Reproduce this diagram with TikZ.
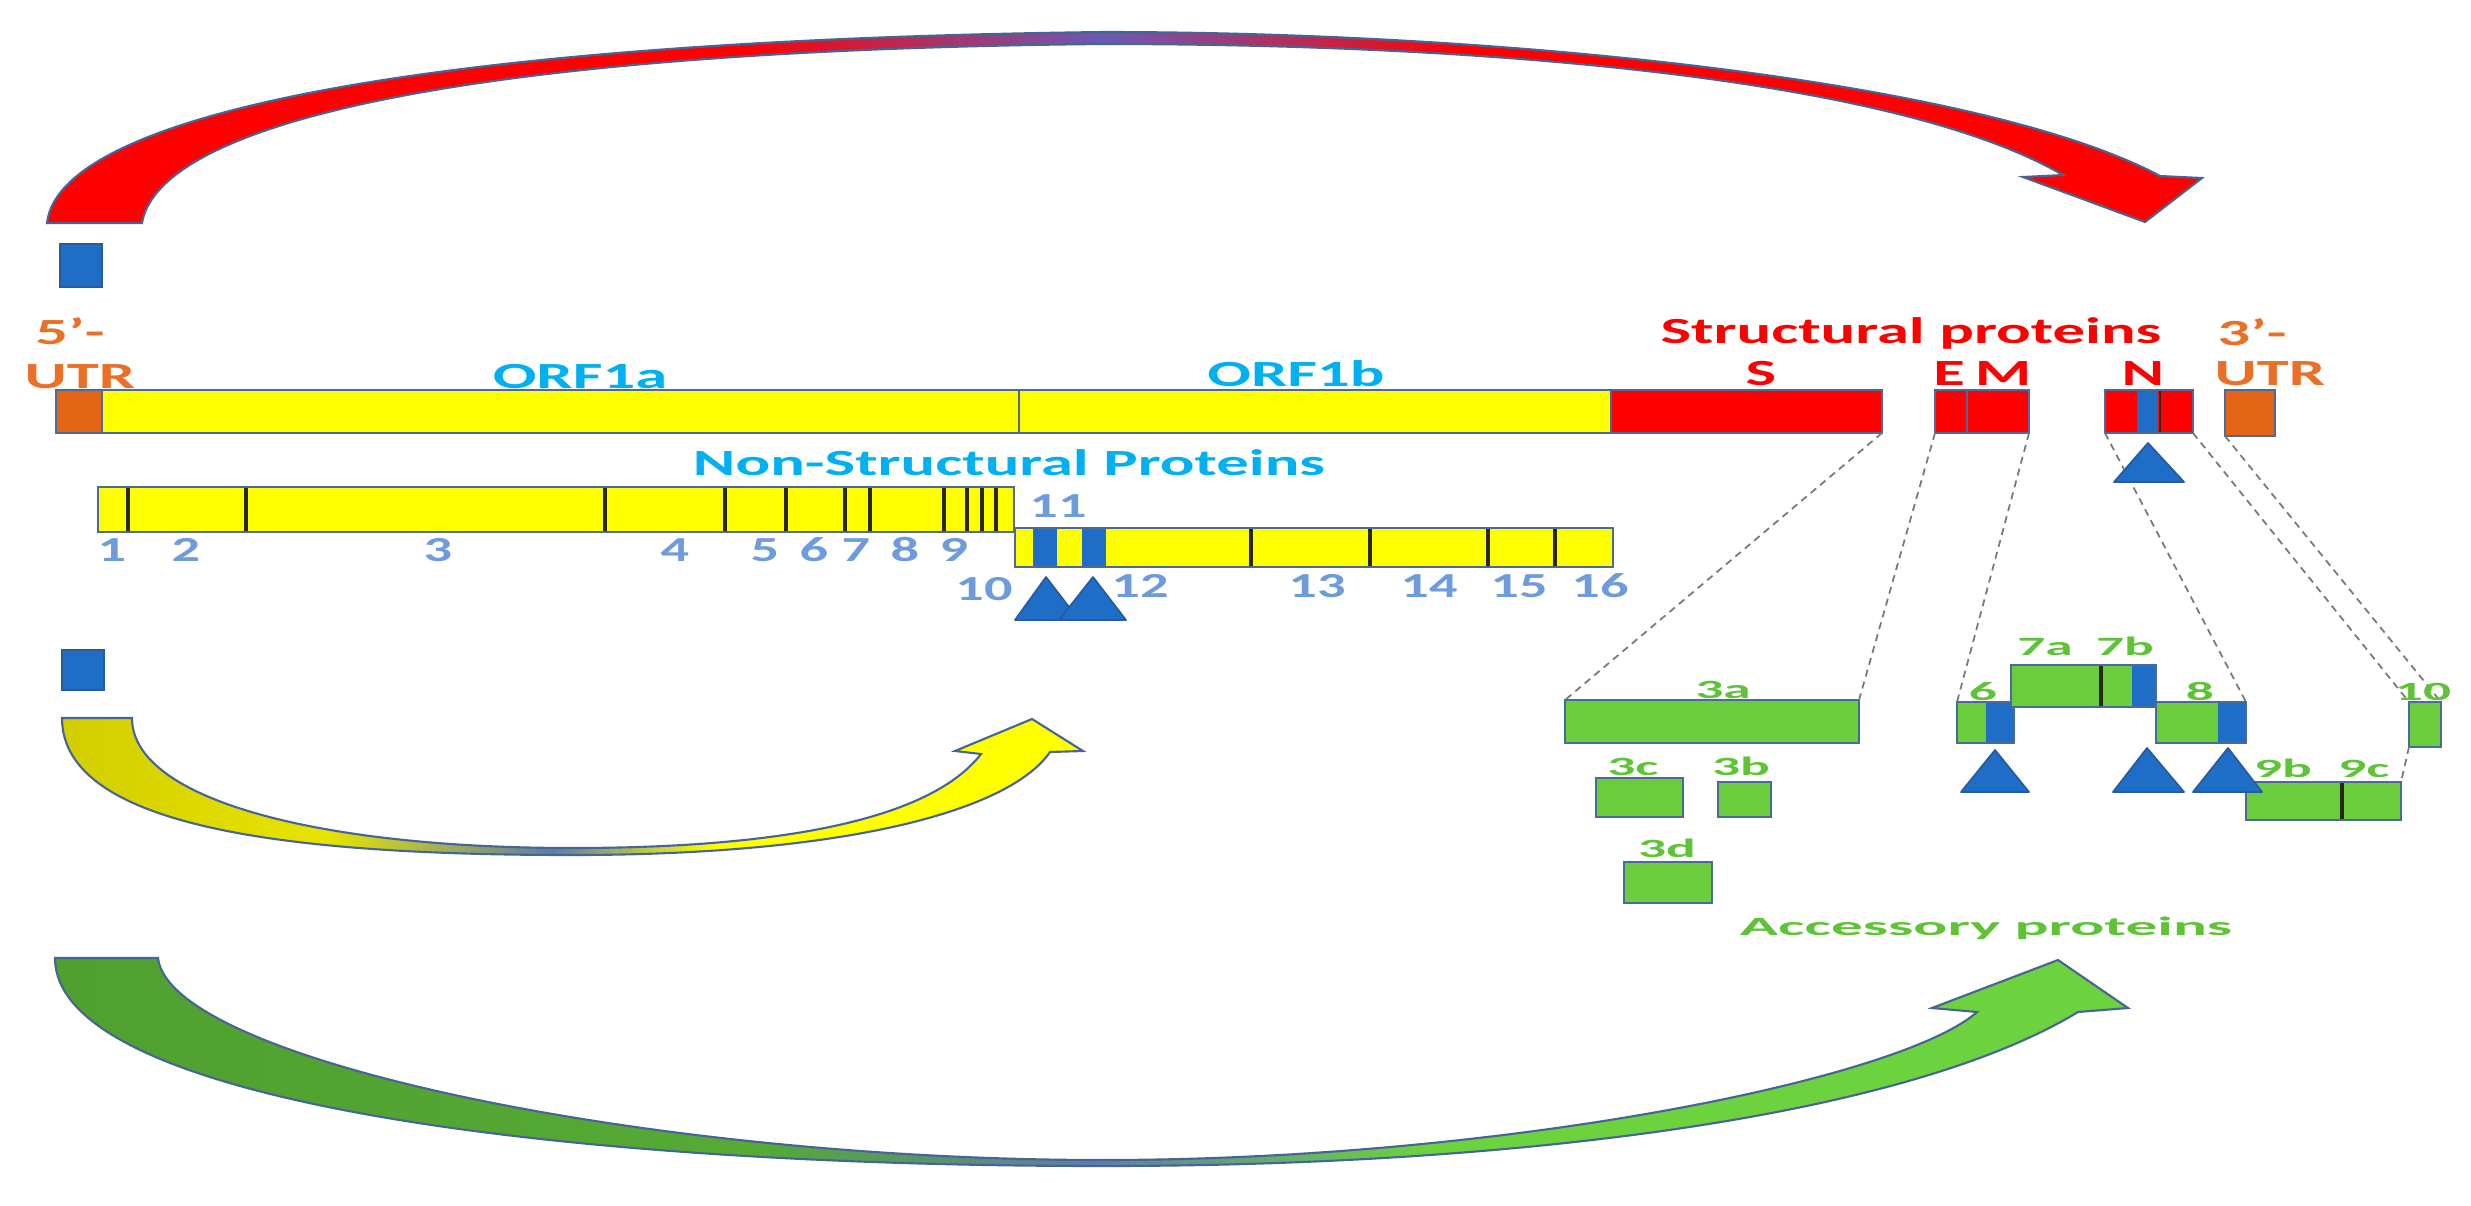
\documentclass[tikz,border=0pt]{standalone}
\usepackage{fontspec}
\setmainfont{Carlito}
\usepackage{graphicx}
\usetikzlibrary{fit}

\definecolor{yel}{RGB}{255,255,0}
\definecolor{redc}{RGB}{255,0,0}
\definecolor{orng}{RGB}{226,100,20}
\definecolor{orngtxt}{RGB}{234,112,40}
\definecolor{blu}{RGB}{30,110,200}
\definecolor{bluedge}{RGB}{40,90,160}
\definecolor{boxline}{RGB}{75,105,155}
\definecolor{grn}{RGB}{105,205,60}
\definecolor{grntxt}{RGB}{95,195,55}
\definecolor{cyantxt}{RGB}{0,176,240}
\definecolor{numtxt}{RGB}{110,155,220}
\definecolor{tickc}{RGB}{40,40,20}
\definecolor{arcedge}{RGB}{70,100,150}
\definecolor{arcmid}{RGB}{105,90,180}
\definecolor{arcblueg}{RGB}{95,125,165}
\definecolor{yolive}{RGB}{210,205,0}
\definecolor{ymid}{RGB}{232,228,0}
\definecolor{gdark}{RGB}{80,160,48}
\definecolor{gdarkb}{RGB}{85,170,52}
\definecolor{glight}{RGB}{108,210,62}
\definecolor{dashc}{RGB}{120,120,120}

\pgfdeclarehorizontalshading{redarc}{100bp}{color(0bp)=(redc); color(41bp)=(redc); color(49.5bp)=(arcmid); color(58bp)=(redc); color(100bp)=(redc)}
\pgfdeclarehorizontalshading{yelarc}{100bp}{color(0bp)=(yolive); color(25bp)=(yolive); color(38bp)=(ymid); color(49bp)=(arcblueg); color(57bp)=(yel); color(100bp)=(yel)}
\pgfdeclarehorizontalshading{grnarc}{100bp}{color(0bp)=(gdark); color(25bp)=(gdark); color(42bp)=(gdarkb); color(50bp)=(arcblueg); color(58bp)=(glight); color(100bp)=(glight)}

\newcommand\stx[2]{\scalebox{#1}[1]{#2}}

\begin{document}
\begin{tikzpicture}[x=0.01cm,y=-0.01cm,
  gbox/.style={draw=boxline, line width=0.6pt, inner sep=0pt, outer sep=0pt, rectangle},
  abox/.style={gbox, fill=grn},
  bsq/.style={rectangle, fill=blu, draw=bluedge, line width=0.4pt, inner sep=0pt, outer sep=0pt},
  outl/.style={draw=boxline, line width=0.6pt},
  tickl/.style={draw=tickc, line width=0.9pt},
  tri/.style={fill=blu, draw=bluedge, line width=0.5pt, line join=round},
  dashl/.style={draw=dashc, line width=0.5pt, dash pattern=on 2pt off 1.5pt},
  arc/.style={draw=arcedge, line width=0.6pt, line join=miter},
  lblA/.style={anchor=base, inner sep=0pt, font=\fontsize{10.5}{12}\selectfont\bfseries},
  num/.style={anchor=base, inner sep=0pt, text=numtxt, font=\fontsize{10}{12}\selectfont\bfseries},
  glbl/.style={anchor=base, inner sep=0pt, text=grntxt, font=\fontsize{7.5}{9}\selectfont\bfseries}
]
\useasboundingbox (0,0) rectangle (2471,1205);

% ---- big curved arrows ----
\shadedraw[shading=redarc, arc]
 (47,223) .. controls (60,110) and (450,40) .. (1103,32)
 .. controls (1500,32) and (1980,80) .. (2160,176)
 -- (2202,178) -- (2145,222) -- (2023,177) -- (2063,175)
 .. controls (1900,80) and (1500,44) .. (1103,44)
 .. controls (480,50) and (160,120) .. (142,223) -- cycle;

\shadedraw[shading=yelarc, arc]
 (62,718) .. controls (62,830) and (300,855) .. (572,855)
 .. controls (850,855) and (1010,810) .. (1050,752)
 -- (1083,751) -- (1032,719) -- (955,751) -- (981,754)
 .. controls (930,820) and (780,848) .. (572,848)
 .. controls (320,848) and (132,800) .. (132,718) -- cycle;

\shadedraw[shading=grnarc, arc]
 (55,958) .. controls (55,1100) and (550,1166) .. (1103,1166)
 .. controls (1500,1166) and (1900,1120) .. (2078,1012)
 -- (2128,1008) -- (2058,960) -- (1932,1008) -- (1977,1012)
 .. controls (1900,1080) and (1500,1160) .. (1103,1160)
 .. controls (650,1160) and (170,1060) .. (158,958) -- cycle;

% ---- blue squares ----
\node[bsq, fit={(60,244) (102,287)}] (sq1) {};
\node[bsq, fit={(62,650) (104,690)}] (sq2) {};

% ---- genome ----
\node[gbox, fill=orng, fit={(56,390) (102,433)}] (utr5) {};
\node[gbox, fill=yel, fit={(102,390) (1019,433)}] (orf1a) {};
\node[gbox, fill=yel, fit={(1019,390) (1611,433)}] (orf1b) {};
\node[gbox, fill=redc, fit={(1611,390) (1882,433)}] (sgene) {};
\node[gbox, fill=redc, fit={(1935,390) (1967,433)}] (egene) {};
\node[gbox, fill=redc, fit={(1967,390) (2029,433)}] (mgene) {};
\node[gbox, fill=redc, fit={(2105,390) (2193,433)}] (ngene) {};
\fill[blu] (2137,391) rectangle (2158,432);
\draw[tickl, line width=0.5pt] (2160,391) -- (2160,432);
\draw[outl] (ngene.north west) rectangle (ngene.south east);
\node[gbox, fill=orng, fit={(2225,390) (2275,436)}] (utr3) {};

% ---- dashed connectors ----
\node[abox, fit={(1565,700) (1859,743)}] (a3) {};
\node[abox, fit={(1957,702) (2014,743)}] (o6) {};
\node[abox, fit={(2156,702) (2246,743)}] (o8) {};
\node[abox, fit={(2409,702) (2441,747)}] (o10) {};
\node[abox, fit={(2246,782) (2401,820)}] (o9) {};
\draw[dashl] (sgene.south east) -- (a3.north west);
\draw[dashl] (egene.south west) -- (a3.north east);
\draw[dashl] (mgene.south east) -- (o6.north west);
\draw[dashl] (ngene.south west) -- (o8.north east);
\draw[dashl] (ngene.south east) -- (o10.north west);
\draw[dashl] (utr3.south west) -- (o10.north east);
\draw[dashl] (o10.south west) -- (o9.north east);

% ---- non-structural protein bars ----
\node[gbox, fill=yel, fit={(98,487) (1014,532)}] (nsp1a) {};
\foreach \t in {128,246,605,725,786,845,870,944,967,982,996}
  \draw[tickl] (\t,488) -- (\t,531);
\node[gbox, fill=yel, fit={(1015,528) (1613,567)}] (nsp1b) {};
\fill[blu] (1033,529) rectangle (1057,566);
\fill[blu] (1082,529) rectangle (1106,566);
\foreach \t in {1251,1370,1488,1555}
  \draw[tickl] (\t,529) -- (\t,566);
\draw[outl] (nsp1b.north west) rectangle (nsp1b.south east);

\draw[tri] (1015,620) -- (1046,577) -- (1079,620) -- cycle;
\draw[tri] (1059,620) -- (1093,577) -- (1126,620) -- cycle;
\draw[tri] (2114,482) -- (2148,443) -- (2184,482) -- cycle;

% ---- accessory boxes ----
\fill[blu] (1986,703) rectangle (2014,742);
\draw[outl] (o6.north west) rectangle (o6.south east);
\node[abox, fit={(2011,665) (2156,707)}] (o7) {};
\fill[blu] (2132,666) rectangle (2156,706);
\draw[tickl] (2101,666) -- (2101,706);
\draw[outl] (o7.north west) rectangle (o7.south east);
\fill[blu] (2218,703) rectangle (2246,742);
\draw[outl] (o8.north west) rectangle (o8.south east);
\draw[tickl] (2342,783) -- (2342,819);
\node[abox, fit={(1596,778) (1683,817)}] (c3) {};
\node[abox, fit={(1718,782) (1771,817)}] (b3) {};
\node[abox, fit={(1624,862) (1712,903)}] (d3) {};

\draw[tri] (1961,792) -- (1995,750) -- (2029,792) -- cycle;
\draw[tri] (2113,792) -- (2147,748) -- (2184,792) -- cycle;
\draw[tri] (2193,792) -- (2228,748) -- (2262,792) -- cycle;

% ---- labels ----
\node[lblA, text=orngtxt] (t5p) at (70,344) {\stx{1.75}{5’-}};
\node[lblA, text=orngtxt] (tutr5) at (80,388) {\stx{1.75}{UTR}};
\node[lblA, text=cyantxt] (torf1a) at (580,388) {\stx{1.75}{ORF1a}};
\node[lblA, text=cyantxt] (torf1b) at (1296,386) {\stx{1.75}{ORF1b}};
\node[lblA, text=redc] (tstruct) at (1911,343) {\stx{1.75}{Structural proteins}};
\node[lblA, text=redc] (tS) at (1761,385) {\stx{1.75}{S}};
\node[lblA, text=redc] (tE) at (1949,385) {\stx{1.75}{E}};
\node[lblA, text=redc] (tM) at (2003,385) {\stx{1.75}{M}};
\node[lblA, text=redc] (tN) at (2143,385) {\stx{1.75}{N}};
\node[lblA, text=orngtxt] (t3p) at (2252,345) {\stx{1.75}{3’-}};
\node[lblA, text=orngtxt] (tutr3) at (2270,385) {\stx{1.75}{UTR}};
\node[lblA, text=cyantxt] (tnsp) at (1009,475) {\stx{1.75}{Non-Structural Proteins}};

\node[num] (n1) at (112,561) {\stx{1.6}{1}};
\node[num] (n2) at (186,561) {\stx{1.6}{2}};
\node[num] (n3) at (438,561) {\stx{1.6}{3}};
\node[num] (n4) at (675,561) {\stx{1.6}{4}};
\node[num] (n5) at (765,561) {\stx{1.6}{5}};
\node[num] (n6) at (814,561) {\stx{1.6}{6}};
\node[num] (n7) at (856,561) {\stx{1.6}{7}};
\node[num] (n8) at (905,561) {\stx{1.6}{8}};
\node[num] (n9) at (954,561) {\stx{1.6}{9}};
\node[num] (n10) at (984,600) {\stx{1.6}{10}};
\node[num] (n11) at (1058,517) {\stx{1.6}{11}};
\node[num] (n12) at (1140,597) {\stx{1.6}{12}};
\node[num] (n13) at (1317,597) {\stx{1.6}{13}};
\node[num] (n14) at (1429,597) {\stx{1.6}{14}};
\node[num] (n15) at (1519,597) {\stx{1.6}{15}};
\node[num] (n16) at (1600,597) {\stx{1.6}{16}};

\node[glbl] (l3a) at (1723,698) {\stx{2.1}{3a}};
\node[glbl] (l6) at (1983,700) {\stx{2.1}{6}};
\node[glbl] (l7a) at (2045,655) {\stx{2.1}{7a}};
\node[glbl] (l7b) at (2125,655) {\stx{2.1}{7b}};
\node[glbl] (l8) at (2200,700) {\stx{2.1}{8}};
\node[glbl] (l10) at (2423,700) {\stx{2.1}{10}};
\node[glbl] (l9b) at (2283,777) {\stx{2.1}{9b}};
\node[glbl] (l9c) at (2364,777) {\stx{2.1}{9c}};
\node[glbl] (l3c) at (1633,775) {\stx{2.1}{3c}};
\node[glbl] (l3b) at (1741,775) {\stx{2.1}{3b}};
\node[glbl] (l3d) at (1667,857) {\stx{2.1}{3d}};
\node[glbl] (lacc) at (1986,935) {\stx{2.4}{Accessory proteins}};
\end{tikzpicture}
\end{document}
